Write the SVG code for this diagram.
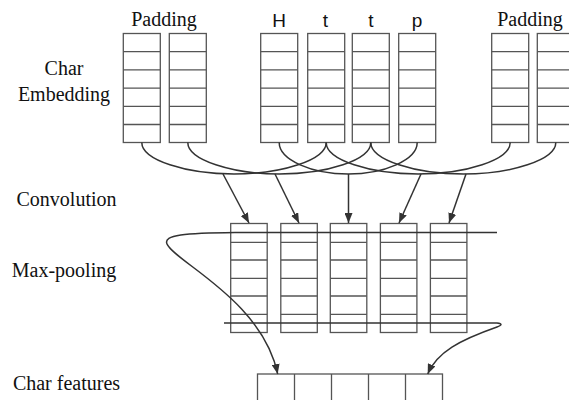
<svg xmlns="http://www.w3.org/2000/svg" xmlns:xlink="http://www.w3.org/1999/xlink" width="569" height="400" viewBox="0 0 569 400">
<style>
.serif{font-family:"Liberation Serif","Times New Roman",serif;font-size:20px;fill:#111}
.sans{font-family:"Liberation Sans",Arial,sans-serif;font-size:19px;fill:#111}
.cell{fill:#fff;stroke:#555;stroke-width:1.3}
.conn{fill:none;stroke:#333;stroke-width:1.5}
</style>
<defs>
<marker id="ah" markerUnits="userSpaceOnUse" markerWidth="10" markerHeight="8" refX="10" refY="4" orient="auto">
<path d="M0,0 L10,4 L0,8 z" fill="#333"/>
</marker>
<g id="col">
<rect class="cell" x="0" y="0" width="37" height="109"/>
<path class="cell" d="M0 18.2H37M0 36.4H37M0 54.6H37M0 72.8H37M0 91H37"/>
</g>
<g id="ccol">
<rect class="cell" x="0" y="0" width="36.5" height="109"/>
<path class="cell" d="M0 18.8H36.5M0 36.5H36.5M0 54.8H36.5M0 72.5H36.5M0 90.8H36.5"/>
</g>
</defs>
<rect width="569" height="400" fill="#fff"/>

<g id="labels">
<text class="serif" x="64" y="75" text-anchor="middle">Char</text>
<text class="serif" x="64" y="101" text-anchor="middle">Embedding</text>
<text class="serif" x="66.5" y="206" text-anchor="middle">Convolution</text>
<text class="serif" x="64" y="277" text-anchor="middle">Max-pooling</text>
<text class="serif" x="66.5" y="390" text-anchor="middle">Char features</text>
<text class="serif" x="164" y="26" text-anchor="middle">Padding</text>
<text class="serif" x="530" y="26" text-anchor="middle">Padding</text>
<text class="sans" x="279" y="27" text-anchor="middle">H</text>
<text class="sans" x="325.5" y="27" text-anchor="middle">t</text>
<text class="sans" x="371" y="27" text-anchor="middle">t</text>
<text class="sans" x="417" y="27" text-anchor="middle">p</text>
</g>

<g id="emb-pad1"><use xlink:href="#col" x="123.3" y="33.5"/></g>
<g id="emb-pad2"><use xlink:href="#col" x="169.3" y="33.5"/></g>
<g id="emb-H"><use xlink:href="#col" x="260.7" y="33.5"/></g>
<g id="emb-t1"><use xlink:href="#col" x="307.7" y="33.5"/></g>
<g id="emb-t2"><use xlink:href="#col" x="352.3" y="33.5"/></g>
<g id="emb-p"><use xlink:href="#col" x="398.7" y="33.5"/></g>
<g id="emb-pad3"><use xlink:href="#col" x="491.7" y="33.5"/></g>
<g id="emb-pad4"><use xlink:href="#col" x="537.3" y="33.5"/></g>

<g id="conv1"><use xlink:href="#ccol" x="230.7" y="223.5"/></g>
<g id="conv2"><use xlink:href="#ccol" x="280.8" y="223.5"/></g>
<g id="conv3"><use xlink:href="#ccol" x="330.3" y="223.5"/></g>
<g id="conv4"><use xlink:href="#ccol" x="380.4" y="223.5"/></g>
<g id="conv5"><use xlink:href="#ccol" x="430.4" y="223.5"/></g>

<g id="features">
<rect class="cell" x="257.5" y="374" width="185" height="40"/>
<path class="cell" d="M294.5 374V414M331.5 374V414M368.5 374V414M405.5 374V414"/>
</g>

<g id="connectors">
<path class="conn" d="M141.8 142.5C141.8 160 186 174 234 174C282 174 326.2 160 326.2 142.5"/>
<path class="conn" d="M187.8 142.5C187.8 160 232 174 279.3 174C327 174 370.8 160 370.8 142.5"/>
<path class="conn" d="M279.2 142.5C279.2 160 312 174 348.2 174C384 174 417.2 160 417.2 142.5"/>
<path class="conn" d="M326.2 142.5C326.2 160 370 174 418.2 174C466 174 510.2 160 510.2 142.5"/>
<path class="conn" d="M370.8 142.5C370.8 160 415 174 463.3 174C511 174 555.8 160 555.8 142.5"/>
<path class="conn" marker-end="url(#ah)" d="M223 174L249 223"/>
<path class="conn" marker-end="url(#ah)" d="M275 174L299 223"/>
<path class="conn" marker-end="url(#ah)" d="M348.5 174L348.5 223"/>
<path class="conn" marker-end="url(#ah)" d="M421 174L399 223"/>
<path class="conn" marker-end="url(#ah)" d="M466 174L449 223"/>
<path class="conn" stroke-width="1.6" marker-end="url(#ah)" d="M497 232.5L235 232.5C185 233 163 235 167 244C175 262 262 300 277.7 374"/>
<path class="conn" stroke-width="1.6" marker-end="url(#ah)" d="M224 323L497 323Q505 324 497 327C460 340 437 352 427.7 374"/>
</g>
</svg>
